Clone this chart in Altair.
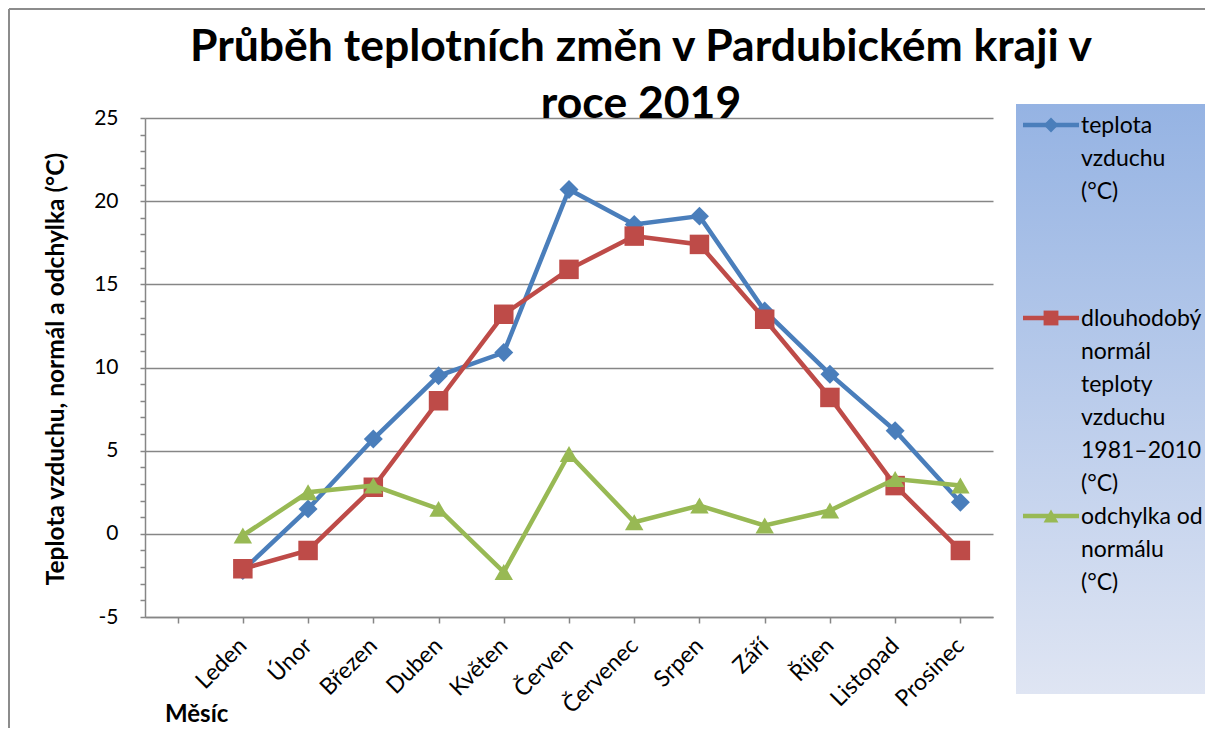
import altair as alt
import pandas as pd

# ---------------- data ----------------
months = ["Leden", "Únor", "Březen", "Duben", "Květen", "Červen",
          "Červenec", "Srpen", "Září", "Říjen", "Listopad", "Prosinec"]
x_slots = [" "] + months  # first category slot is empty in the original
teplota = [-2.2, 1.5, 5.7, 9.5, 10.9, 20.7, 18.6, 19.1, 13.4, 9.6, 6.2, 1.9]
normal = [-2.1, -1.0, 2.8, 8.0, 13.2, 15.9, 17.9, 17.4, 12.9, 8.2, 2.9, -1.0]
odchylka = [-0.1, 2.5, 2.9, 1.5, -2.3, 4.8, 0.7, 1.7, 0.5, 1.4, 3.3, 2.9]
series_names = ["teplota vzduchu (°C)",
                "dlouhodobý normál teploty vzduchu 1981–2010 (°C)",
                "odchylka od normálu (°C)"]
legend_lines = [["teplota", "vzduchu", "(°C)"],
                ["dlouhodobý", "normál", "teploty", "vzduchu", "1981–2010", "(°C)"],
                ["odchylka od", "normálu", "(°C)"]]
y_ticks = list(range(-5, 26))
title_lines = ["Průběh teplotních změn v Pardubickém kraji v", "roce 2019"]
y_title = "Teplota vzduchu, normál a odchylka (°C)"
x_title = "Měsíc"

# ---------------- styles ----------------
colors = ["#4A7EBB", "#BE4B48", "#98B954"]
shapes = ["diamond", "square", "triangle-up"]
marker_sizes = [360, 380, 340]
FONT = "Lato"
GRID = "#868686"
W, H = 848, 499

df = pd.DataFrame({
    "month": months * 3,
    "series": sum([[s] * len(months) for s in series_names], []),
    "value": teplota + normal + odchylka,
})

x_enc = alt.X(
    "month:N",
    scale=alt.Scale(type="point", domain=x_slots, padding=0.5),
    axis=alt.Axis(
        labelAngle=315, labelAlign="right", labelBaseline="top",
        labelFont=FONT, labelFontSize=23, labelColor="black",
        labelPadding=11, labelOffset=-8, tickSize=6, tickColor=GRID, tickWidth=1.5,
        domainColor=GRID, domainWidth=1.5, grid=False, labelOverlap=False,
        labelBound=False, labelFlush=False,
    ),
    title=None,
)
y_enc = alt.Y(
    "value:Q",
    scale=alt.Scale(domain=[-5, 25], nice=False, zero=False),
    axis=alt.Axis(
        values=y_ticks,
        labelExpr="datum.value % 5 === 0 ? toString(datum.value) : ''",
        labelFont=FONT, labelFontSize=21, labelColor="black", labelPadding=22,
        tickSize=5, tickColor=GRID, tickWidth=1.5,
        domainColor=GRID, domainWidth=1.5,
        grid=True, gridColor=GRID, gridWidth=1.5,
        gridOpacity={"condition": {"test": "datum.value % 5 === 0", "value": 1}, "value": 0},
        labelOverlap=False, labelFlush=False,
    ),
    title=None,
)

one = pd.DataFrame({"k": [0]})
layers = []

# frame of the chart area (top and left edges)
layers.append(alt.Chart(one).mark_rule(color="#8C8C8C", strokeWidth=2).encode(
    x=alt.value(-136), x2=alt.value(1070), y=alt.value(-109)))
layers.append(alt.Chart(one).mark_rule(color="#8C8C8C", strokeWidth=2).encode(
    x=alt.value(-136), y=alt.value(-109), y2=alt.value(620)))

# legend background
gradient = {"gradient": "linear", "x1": 0, "y1": 0, "x2": 0, "y2": 1,
            "stops": [{"offset": 0, "color": "#95B3E3"},
                      {"offset": 1, "color": "#DFE5F3"}]}
layers.append(alt.Chart(one).mark_rect(fill=gradient).encode(
    x=alt.value(871), x2=alt.value(1070), y=alt.value(-14), y2=alt.value(576)))

# series
for name, col, shp, sz in zip(series_names, colors, shapes, marker_sizes):
    layers.append(
        alt.Chart(df)
        .transform_filter(alt.FieldEqualPredicate(field="series", equal=name))
        .mark_line(color=col, strokeWidth=4.5,
                   point=alt.OverlayMarkDef(shape=shp, size=sz, filled=True,
                                            color=col, opacity=1))
        .encode(x=x_enc, y=y_enc)
    )

# legend entries
legend_y = [7, 200, 398]
for lines, col, shp, ly in zip(legend_lines, colors, shapes, legend_y):
    layers.append(alt.Chart(one).mark_rule(color=col, strokeWidth=4.5).encode(
        x=alt.value(878), x2=alt.value(934), y=alt.value(ly)))
    layers.append(alt.Chart(one).mark_point(shape=shp, size=220, filled=True,
                                            color=col, opacity=1).encode(
        x=alt.value(906), y=alt.value(ly)))
    layers.append(alt.Chart(one).mark_text(
        font=FONT, fontSize=23, align="left", baseline="alphabetic",
        lineHeight=33, color="black").encode(
        x=alt.value(936), y=alt.value(ly + 8), text=alt.value(lines)))

# title
for line, ty in zip(title_lines, [-57, 0]):
    layers.append(alt.Chart(one).mark_text(
        font=FONT, fontSize=44.5, fontWeight="bold", align="center",
        baseline="alphabetic", color="black").encode(
        x=alt.value(496), y=alt.value(ty), text=alt.value(line)))

# axis titles
layers.append(alt.Chart(one).mark_text(
    font=FONT, fontSize=24.5, fontWeight="bold", align="center",
    baseline="middle", angle=270, color="black").encode(
    x=alt.value(-88), y=alt.value(251), text=alt.value(y_title)))
layers.append(alt.Chart(one).mark_text(
    font=FONT, fontSize=24, fontWeight="bold", align="left",
    baseline="bottom", color="black").encode(
    x=alt.value(20), y=alt.value(609), text=alt.value(x_title)))

chart = alt.layer(*layers).properties(
    width=W, height=H,
    autosize=alt.AutoSizeParams(type="none"),
    padding={"left": 137, "top": 110, "right": 212, "bottom": 111},
    background="white",
).configure_view(stroke=None)

chart.save("out.html", embed_options={"renderer": "svg", "actions": False})
